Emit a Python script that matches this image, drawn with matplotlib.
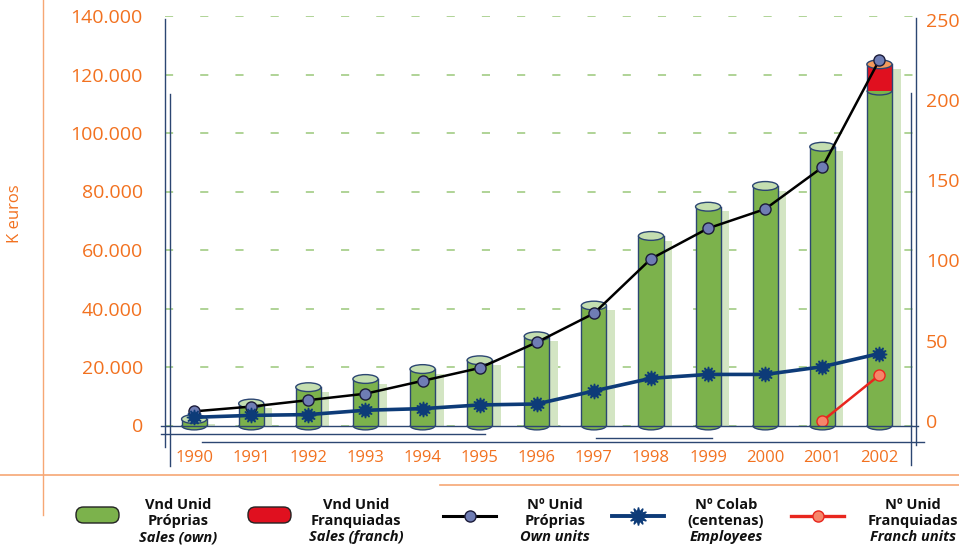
import matplotlib
matplotlib.use("Agg")
import matplotlib.pyplot as plt
from matplotlib.patches import Rectangle, Ellipse, Arc, FancyBboxPatch
from matplotlib.lines import Line2D
import numpy as np

# ---- data -------------------------------------------------------------
years = ["1990", "1991", "1992", "1993", "1994", "1995", "1996",
         "1997", "1998", "1999", "2000", "2001", "2002"]
sales_own = [2200, 7500, 13100, 15900, 19300, 22300, 30500,
             41000, 64800, 74800, 81900, 95300, 114500]          # K euros
sales_franch = [0, 0, 0, 0, 0, 0, 0, 0, 0, 0, 0, 0, 9000]         # K euros
own_units = [6, 9, 13, 17, 25, 33, 49, 67, 101, 120, 132, 158, 225]
employees = [2.3, 3.5, 4, 6.7, 7.7, 10, 10.6, 18.7, 26.6, 29, 29, 33.8, 42]
franch_units = [np.nan] * 11 + [0, 28.6]

left_ticks = [0, 20000, 40000, 60000, 80000, 100000, 120000, 140000]
left_labels = ["0", "20.000", "40.000", "60.000", "80.000",
               "100.000", "120.000", "140.000"]
right_ticks = [0, 50, 100, 150, 200, 250]
right_labels = ["0", "50", "100", "150", "200", "250"]

legend_entries = [
    ("Vnd Unid", "Próprias", "Sales (own)"),
    ("Vnd Unid", "Franquiadas", "Sales (franch)"),
    ("Nº Unid", "Próprias", "Own units"),
    ("Nº Colab", "(centenas)", "Employees"),
    ("Nº Unid", "Franquiadas", "Franch units"),
]

# ---- style ------------------------------------------------------------
ORANGE = "#f2711f"
ORANGE_LINE = "#f6a774"
NAVY = "#2c4672"
GREEN = "#7cb24c"
GREEN_TOP = "#c4deb0"
GREEN_SHADOW = "#d3e5c3"
GRID_GREEN = "#a9d08e"
RED = "#e0101f"
RED_TOP = "#f39a5c"
EMP_BLUE = "#0d3b78"
UNIT_FILL = "#6f7db4"
FR_LINE = "#e8261e"
FR_FILL = "#f6866a"

plt.rcParams['font.family'] = ['Open Sans', 'DejaVu Sans']

W, H = 959, 547
fig = plt.figure(figsize=(W / 100, H / 100), dpi=100)


def fx(px):
    return px / W


def fy(py):
    return 1 - py / H


ax = fig.add_axes([fx(165), fy(425.5), fx(916) - fx(165), fy(16) - fy(425.5)])
ax.set_xlim(-0.51, 12.64)
ax.set_ylim(0, 140000)
for s in ax.spines.values():
    s.set_visible(False)
ax.set_facecolor("none")

# dashed horizontal gridlines
for t in left_ticks:
    ax.axhline(t, color=GRID_GREEN, lw=1.3, dashes=(4.5, 15), zorder=0)

ax.set_yticks(left_ticks)
ax.set_yticklabels(left_labels)
ax.tick_params(axis='y', length=0, pad=16, labelsize=14, labelcolor=ORANGE)
ax.set_xticks([])

x = np.arange(len(years))
for xi, yl in zip(x, years):
    ax.text(xi, -0.079, yl, transform=ax.get_xaxis_transform(),
            ha='center', va='center', fontsize=12, color=ORANGE)

# ---- cylinders --------------------------------------------------------
bw = 0.44          # cylinder width (x units)
eh = 3000          # ellipse height (y units)
sdx = 0.15         # shadow offset
for xi, own, fr in zip(x, sales_own, sales_franch):
    total = own + fr
    ax.add_patch(Rectangle((xi - bw / 2 + sdx, 0), bw, total - 1600,
                           facecolor=GREEN_SHADOW, edgecolor='none', zorder=1))
    # bottom cap
    ax.add_patch(Ellipse((xi, 0), bw, eh, facecolor=GREEN, edgecolor='none',
                         zorder=2, clip_on=False))
    ax.add_patch(Arc((xi, 0), bw, eh, theta1=180, theta2=360, color=NAVY,
                     lw=1, zorder=3, clip_on=False))
    # green body
    ax.add_patch(Rectangle((xi - bw / 2, 0), bw, own, facecolor=GREEN,
                           edgecolor='none', zorder=2))
    top_color = GREEN_TOP
    if fr > 0:
        ax.add_patch(Ellipse((xi, own), bw, eh, facecolor=GREEN,
                             edgecolor='none', zorder=2))
        ax.add_patch(Rectangle((xi - bw / 2, own), bw, fr, facecolor=RED,
                               edgecolor='none', zorder=2))
        ax.add_patch(Arc((xi, own), bw, eh, theta1=180, theta2=360,
                         color=NAVY, lw=1, zorder=3))
        top_color = RED_TOP
    ax.plot([xi - bw / 2, xi - bw / 2], [0, total], color=NAVY, lw=1, zorder=3)
    ax.plot([xi + bw / 2, xi + bw / 2], [0, total], color=NAVY, lw=1, zorder=3)
    ax.add_patch(Ellipse((xi, total), bw, eh, facecolor=top_color,
                         edgecolor=NAVY, lw=1, zorder=3))

# ---- lines on secondary axis -----------------------------------------
ax2 = ax.twinx()
ax2.set_ylim(-2.8, 252.2)
for s in ax2.spines.values():
    s.set_visible(False)
ax2.set_yticks(right_ticks)
ax2.set_yticklabels(right_labels)
ax2.tick_params(axis='y', length=0, pad=7, labelsize=14, labelcolor=ORANGE)

ax2.plot(x, own_units, color='black', lw=1.8, marker='o', ms=8,
         mfc=UNIT_FILL, mec='#1c1c3a', mew=1, zorder=4)
ax2.plot(x, employees, color=EMP_BLUE, lw=2.6, marker=(12, 1, 0), ms=11,
         mfc=EMP_BLUE, mec=EMP_BLUE, zorder=5)
ax2.plot(x, franch_units, color=FR_LINE, lw=1.8, marker='o', ms=8,
         mfc=FR_FILL, mec=FR_LINE, mew=1, zorder=6)

# ---- frame decoration -------------------------------------------------
def fline(x0, y0, x1, y1, color, lw=1.0):
    fig.add_artist(Line2D([fx(x0), fx(x1)], [fy(y0), fy(y1)], color=color,
                          lw=lw, transform=fig.transFigure))


fline(43, 0, 43, 515, ORANGE_LINE)
fline(0, 474.5, 959, 474.5, ORANGE_LINE, 1.2)
fline(440, 484.5, 959, 484.5, ORANGE_LINE, 1.2)
fline(165, 19, 165, 447, NAVY)
fline(170, 94, 170, 466, NAVY)
fline(916, 18, 916, 445, NAVY)
fline(911, 93, 911, 465, NAVY)
fline(161, 426, 918, 426, NAVY)
fline(161, 434, 485, 434, NAVY)
fline(596, 438, 712, 438, NAVY)
fline(202, 442, 924, 442, NAVY)

fig.text(fx(15), fy(214), "K euros", rotation=90, ha='center', va='center',
         fontsize=12, color=ORANGE)

# ---- legend -----------------------------------------------------------
inch = fig.dpi_scale_trans


def box(px0, py0, px1, py1, color):
    fig.add_artist(FancyBboxPatch((px0 / 100, (H - py1) / 100),
                                  (px1 - px0) / 100, (py1 - py0) / 100,
                                  boxstyle="round,pad=0,rounding_size=0.075",
                                  facecolor=color, edgecolor='#222222', lw=1,
                                  transform=inch))


box(76, 507, 119, 523, GREEN)
box(248, 507, 291, 523, RED)


def legline(px0, px1, color, lw, marker, ms, mfc, mec):
    fig.add_artist(Line2D([fx(px0), fx(px1)], [fy(516), fy(516)], color=color,
                          lw=lw, transform=fig.transFigure))
    fig.add_artist(Line2D([fx((px0 + px1) / 2)], [fy(516)], marker=marker,
                          ms=ms, mfc=mfc, mec=mec, lw=0,
                          transform=fig.transFigure))


legline(443, 496, 'black', 2.2, 'o', 8, UNIT_FILL, '#1c1c3a')
legline(612, 664, EMP_BLUE, 2.8, (12, 1, 0), 13, EMP_BLUE, EMP_BLUE)
legline(791, 844, FR_LINE, 2.4, 'o', 8, FR_FILL, FR_LINE)

centers = [178, 356, 555, 726, 913]
for cx, (l1, l2, l3) in zip(centers, legend_entries):
    fig.text(fx(cx), fy(505), l1, ha='center', va='center', fontsize=10.5,
             fontweight='bold', color='#111111')
    fig.text(fx(cx), fy(521), l2, ha='center', va='center', fontsize=10.5,
             fontweight='bold', color='#111111')
    fig.text(fx(cx), fy(537), l3, ha='center', va='center', fontsize=10.5,
             fontstyle='italic', fontweight='bold', color='#111111')

fig.savefig("out.png", dpi=100)
